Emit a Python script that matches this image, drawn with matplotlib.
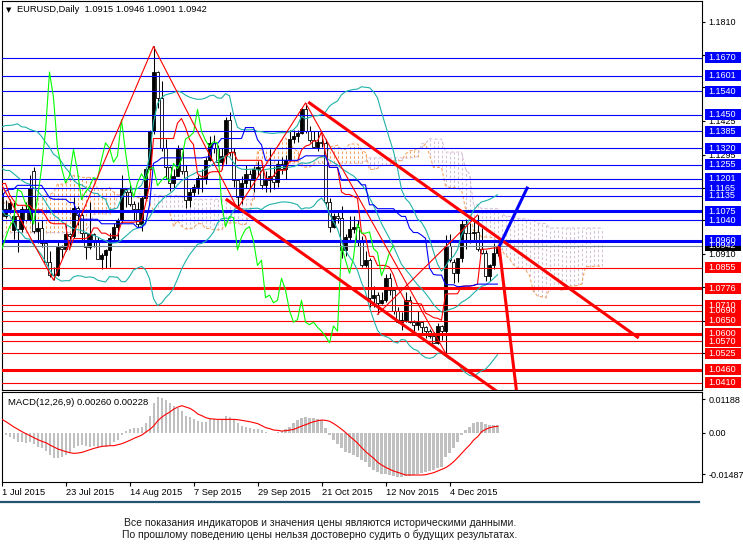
import numpy as np
import pandas as pd
import matplotlib
matplotlib.use("Agg")
import matplotlib.pyplot as plt
import matplotlib.transforms as mtransforms
from matplotlib.patches import Rectangle
from matplotlib.lines import Line2D

plt.rcParams['font.family'] = ['Liberation Sans', 'DejaVu Sans']

# history before the visible window (16 Mar - 30 Jun 2015), only used to warm up the indicators
hist_high = [1.0590, 1.0640, 1.1040, 1.0860, 1.0845, 1.0950, 1.1000, 1.0990, 1.1050, 1.0930, 1.0890, 1.0795,
             1.0790, 1.0935, 1.1000, 1.1035, 1.0980, 1.0875, 1.0790, 1.0675, 1.0625, 1.0690, 1.0700, 1.0845,
             1.0850, 1.0810, 1.0780, 1.0795, 1.0850, 1.0875, 1.0905, 1.0990, 1.1190, 1.1290,
             1.1290, 1.1200, 1.1195, 1.1345, 1.1390, 1.1285, 1.1220, 1.1245, 1.1375, 1.1445, 1.1465, 1.1460,
             1.1325, 1.1165, 1.1190, 1.1130, 1.1015, 1.0990, 1.0905, 1.0990, 1.0990,
             1.0990, 1.1165, 1.1275, 1.1380, 1.1275, 1.1290, 1.1305, 1.1385, 1.1330, 1.1290, 1.1285, 1.1290,
             1.1330, 1.1435, 1.1395, 1.1410, 1.1325, 1.1235, 1.1250, 1.1220, 1.1275, 1.1280]
hist_low = [1.0460, 1.0560, 1.0570, 1.0615, 1.0650, 1.0800, 1.0915, 1.0880, 1.0890, 1.0815, 1.0810, 1.0710,
            1.0720, 1.0755, 1.0815, 1.0920, 1.0790, 1.0755, 1.0630, 1.0595, 1.0520, 1.0540, 1.0570, 1.0660,
            1.0740, 1.0710, 1.0700, 1.0665, 1.0705, 1.0800, 1.0840, 1.0875, 1.0955, 1.1130,
            1.1170, 1.1115, 1.1100, 1.1170, 1.1235, 1.1140, 1.1120, 1.1130, 1.1200, 1.1330, 1.1350, 1.1310,
            1.1115, 1.1060, 1.1085, 1.0990, 1.0945, 1.0865, 1.0820, 1.0870, 1.0900,
            1.0885, 1.0920, 1.1110, 1.1195, 1.1050, 1.1085, 1.1225, 1.1250, 1.1205, 1.1180, 1.1135, 1.1190,
            1.1215, 1.1325, 1.1325, 1.1280, 1.1135, 1.1160, 1.1155, 1.1130, 1.0955, 1.1120]
hist_close = [1.0565, 1.0595, 1.0845, 1.0660, 1.0820, 1.0935, 1.0925, 1.0965, 1.0890, 1.0890, 1.0830, 1.0730,
              1.0760, 1.0885, 1.0970, 1.0925, 1.0805, 1.0780, 1.0650, 1.0600, 1.0570, 1.0665, 1.0685, 1.0765,
              1.0805, 1.0735, 1.0725, 1.0730, 1.0825, 1.0870, 1.0885, 1.0975, 1.1125, 1.1225,
              1.1200, 1.1145, 1.1180, 1.1345, 1.1265, 1.1200, 1.1155, 1.1215, 1.1345, 1.1405, 1.1450, 1.1315,
              1.1145, 1.1095, 1.1105, 1.1010, 1.0980, 1.0875, 1.0900, 1.0975, 1.0985,
              1.0925, 1.1155, 1.1275, 1.1240, 1.1110, 1.1290, 1.1290, 1.1320, 1.1250, 1.1265, 1.1280, 1.1245,
              1.1330, 1.1360, 1.1345, 1.1325, 1.1165, 1.1200, 1.1205, 1.1165, 1.1235, 1.1146]

# EURUSD daily bars shown on the chart, 1 Jul - 22 Dec 2015
bar_open = [1.1146, 1.1055, 1.1085, 1.1001, 1.1058, 1.1008, 1.1083, 1.1040, 1.1230, 1.1000, 1.1010, 1.0950,
            1.0878, 1.0827, 1.0829, 1.0936, 1.0928, 1.0985, 1.0980, 1.1088, 1.1060, 1.0990, 1.0935,
            1.0985, 1.0955, 1.0890, 1.0905, 1.0925, 1.0970, 1.1015, 1.1040, 1.1160, 1.1150, 1.1105, 1.1085,
            1.1025, 1.1125, 1.1240, 1.1385, 1.1615, 1.1515, 1.1320, 1.1245, 1.1185,
            1.1212, 1.1315, 1.1230, 1.1120, 1.1150, 1.1170, 1.1205, 1.1200, 1.1275, 1.1340, 1.1320, 1.1265,
            1.1290, 1.1430, 1.1305, 1.1195, 1.1130, 1.1185, 1.1220, 1.1195, 1.1240, 1.1245,
            1.1175, 1.1195, 1.1210, 1.1190, 1.1260, 1.1240, 1.1275, 1.1355, 1.1365, 1.1380, 1.1470, 1.1385,
            1.1350, 1.1325, 1.1345, 1.1340, 1.1110, 1.1015, 1.1055, 1.1050, 1.0925, 1.0975,
            1.1005, 1.1015, 1.0960, 1.0865, 1.0885, 1.0740, 1.0750, 1.0720, 1.0730, 1.0815, 1.0770, 1.0690,
            1.0645, 1.0655, 1.0730, 1.0645, 1.0635, 1.0645, 1.0625, 1.0610, 1.0590,
            1.0565, 1.0630, 1.0610, 1.0940, 1.0880, 1.0835, 1.0895, 1.1025, 1.0990, 1.0990, 1.0995, 1.0930,
            1.0915, 1.0825, 1.0865, 1.0915]
bar_high = [1.1147, 1.1120, 1.1124, 1.1110, 1.1063, 1.1096, 1.1109, 1.1215, 1.1245, 1.1035, 1.1042, 1.0960,
            1.0920, 1.0860, 1.0960, 1.0945, 1.1020, 1.0990, 1.1130, 1.1095, 1.1070, 1.0995, 1.1110,
            1.0990, 1.0975, 1.0915, 1.0930, 1.0990, 1.1030, 1.1050, 1.1215, 1.1165, 1.1180, 1.1115, 1.1110,
            1.1135, 1.1245, 1.1390, 1.1714, 1.1620, 1.1580, 1.1355, 1.1250, 1.1240,
            1.1330, 1.1320, 1.1255, 1.1165, 1.1180, 1.1215, 1.1240, 1.1285, 1.1365, 1.1370, 1.1330, 1.1320,
            1.1440, 1.1460, 1.1320, 1.1200, 1.1210, 1.1255, 1.1235, 1.1250, 1.1270, 1.1255,
            1.1230, 1.1318, 1.1250, 1.1275, 1.1285, 1.1295, 1.1390, 1.1390, 1.1390, 1.1475, 1.1495, 1.1405,
            1.1385, 1.1385, 1.1370, 1.1355, 1.1125, 1.1070, 1.1075, 1.1095, 1.0985, 1.1055,
            1.1055, 1.1040, 1.0980, 1.0920, 1.0895, 1.0785, 1.0760, 1.0760, 1.0830, 1.0835, 1.0775, 1.0705,
            1.0685, 1.0760, 1.0745, 1.0655, 1.0690, 1.0650, 1.0630, 1.0620, 1.0605,
            1.0640, 1.0635, 1.0981, 1.0985, 1.0890, 1.0895, 1.1042, 1.1045, 1.1030, 1.1050, 1.1060,
            1.1010, 1.0925, 1.0870, 1.0950, 1.0946]
bar_low = [1.1032, 1.1047, 1.1067, 1.0967, 1.0916, 1.0995, 1.1036, 1.1036, 1.0990, 1.0950, 1.0935, 1.0870,
           1.0820, 1.0808, 1.0825, 1.0890, 1.0920, 1.0940, 1.0970, 1.1020, 1.0955, 1.0890, 1.0930,
           1.0935, 1.0890, 1.0850, 1.0855, 1.0860, 1.0960, 1.0960, 1.1030, 1.1090, 1.1095, 1.1040, 1.1015,
           1.1000, 1.1120, 1.1235, 1.1375, 1.1475, 1.1310, 1.1200, 1.1155, 1.1160,
           1.1210, 1.1220, 1.1087, 1.1090, 1.1135, 1.1140, 1.1150, 1.1180, 1.1270, 1.1300, 1.1250, 1.1240,
           1.1260, 1.1290, 1.1170, 1.1085, 1.1105, 1.1165, 1.1165, 1.1150, 1.1210, 1.1160,
           1.1150, 1.1150, 1.1160, 1.1170, 1.1220, 1.1200, 1.1270, 1.1340, 1.1345, 1.1375, 1.1380, 1.1345,
           1.1320, 1.1310, 1.1325, 1.1105, 1.0995, 1.1010, 1.1030, 1.0895, 1.0900, 1.0965,
           1.0990, 1.0940, 1.0860, 1.0860, 1.0705, 1.0705, 1.0675, 1.0715, 1.0725, 1.0750, 1.0675, 1.0640,
           1.0615, 1.0645, 1.0640, 1.0600, 1.0615, 1.0595, 1.0585, 1.0585, 1.0565,
           1.0560, 1.0575, 1.0525, 1.0880, 1.0796, 1.0800, 1.0880, 1.0930, 1.0950, 1.0965, 1.0920,
           1.0910, 1.0805, 1.0805, 1.0850, 1.0901]
bar_close = [1.1055, 1.1085, 1.1108, 1.1058, 1.1008, 1.1083, 1.1040, 1.1166, 1.1000, 1.1010, 1.0950, 1.0878,
             1.0827, 1.0829, 1.0936, 1.0928, 1.0985, 1.0980, 1.1088, 1.1060, 1.0990, 1.0935, 1.0985,
             1.0955, 1.0890, 1.0905, 1.0925, 1.0970, 1.1015, 1.1040, 1.1160, 1.1150, 1.1105, 1.1085, 1.1025,
             1.1125, 1.1240, 1.1385, 1.1615, 1.1515, 1.1320, 1.1245, 1.1185, 1.1212,
             1.1315, 1.1230, 1.1120, 1.1150, 1.1170, 1.1205, 1.1200, 1.1275, 1.1340, 1.1320, 1.1265, 1.1290,
             1.1430, 1.1305, 1.1195, 1.1130, 1.1185, 1.1220, 1.1195, 1.1240, 1.1245, 1.1175,
             1.1195, 1.1210, 1.1190, 1.1260, 1.1240, 1.1275, 1.1355, 1.1365, 1.1380, 1.1470, 1.1385, 1.1350,
             1.1325, 1.1345, 1.1340, 1.1110, 1.1015, 1.1055, 1.1050, 1.0925, 1.0975, 1.1005,
             1.1015, 1.0960, 1.0865, 1.0885, 1.0740, 1.0750, 1.0720, 1.0730, 1.0815, 1.0770, 1.0690, 1.0645,
             1.0655, 1.0730, 1.0645, 1.0635, 1.0645, 1.0625, 1.0610, 1.0590, 1.0565,
             1.0630, 1.0610, 1.0940, 1.0885, 1.0835, 1.0895, 1.1025, 1.0990, 1.0990, 1.0995, 1.0930,
             1.0915, 1.0825, 1.0865, 1.0915, 1.0942]

# MACD(12,26,9), in units of 1e-3
macd_main_e3 = [-0.83, -0.83, -1.43, -2.26, -3.21, -3.45, -3.80, -3.45, -4.16, -4.99, -5.59, -6.54, -7.96,
                -8.91, -9.15, -8.56, -7.96, -7.37, -5.59, -4.63, -4.40, -4.63, -4.99, -4.75, -4.99, -5.23,
                -4.99, -4.40, -3.45, -2.61, -0.83, 0.59, 1.31, 1.78, 1.78, 2.14, 3.33, 6.06, 10.46, 12.60,
                12.48, 11.65, 10.46, 9.63, 8.91, 7.84, 6.06, 5.47, 4.75, 4.16, 3.68, 3.92, 4.75, 4.75, 4.52,
                4.87, 6.06, 5.70, 4.75, 3.33, 2.50, 2.14, 1.54, 1.31, 1.31, 0.95, 0.36, 0.0, -0.24, 0.36,
                0.71, 1.31, 2.14, 3.33, 4.52, 5.35, 5.59, 5.35, 5.11, 4.87, 4.52, 1.54, -0.83, -2.61, -4.16,
                -5.59, -6.77, -7.37, -7.96, -8.56, -9.74, -10.58, -12.12, -13.31, -14.14, -14.85, -14.85,
                -15.09, -15.33, -15.69, -15.81, -15.33, -15.33, -15.09, -14.85, -14.50, -14.14, -13.67,
                -13.31, -12.72, -12.12, -8.56, -7.37, -5.59, -3.45, -0.83, 0.95, 2.14, 3.33, 3.92, 3.68,
                2.97, 2.73, 2.73, 2.60]
macd_signal_e3 = [4.75, 3.92, 2.97, 2.02, 1.19, 0.36, -0.36, -1.07, -1.78, -2.50, -3.09, -3.57, -4.40,
                  -5.11, -5.82, -6.30, -6.77, -7.13, -7.37, -7.25, -7.01, -6.54, -6.06, -5.59, -5.23, -4.87,
                  -4.75, -4.63, -4.63, -4.28, -3.92, -3.33, -2.73, -2.02, -1.43, -0.83, 0.24, 1.19, 2.50,
                  4.28, 5.59, 6.54, 7.37, 8.44, 9.15, 9.63, 9.15, 8.68, 7.84, 6.65, 6.06, 5.35, 4.99, 4.87,
                  4.75, 4.75, 4.75, 4.75, 4.75, 4.63, 4.40, 4.16, 3.92, 3.57, 3.21, 2.50, 1.78, 1.43, 0.95,
                  0.83, 0.59, 0.71, 0.95, 1.19, 1.78, 2.38, 2.85, 3.45, 3.92, 4.28, 4.52, 4.40, 4.04, 3.21,
                  2.26, 1.19, 0.0, -1.31, -2.50, -3.80, -5.35, -6.77, -7.96, -9.15, -10.58, -11.53, -12.36,
                  -13.07, -13.67, -14.14, -14.62, -15.09, -15.09, -15.09, -15.09, -15.09, -14.97, -14.62,
                  -14.26, -13.67, -13.07, -12.48, -11.53, -10.34, -8.91, -7.37, -5.82, -4.40, -2.61, -1.43,
                  0.36, 1.19, 1.78, 2.10, 2.28]

# horizontal levels drawn on the chart
res_levels = [1.1670, 1.1601, 1.1540, 1.1450, 1.1385, 1.1320, 1.1255, 1.1201, 1.1165, 1.1135,
              1.1075, 1.1040, 1.0960]
res_thick = [1.1075, 1.0960]
sup_levels = [1.0855, 1.0776, 1.0710, 1.0690, 1.0650, 1.0600, 1.0570, 1.0525, 1.0460, 1.0410]
sup_thick = [1.0776, 1.0600, 1.0460]
price_ticks = [1.1810, 1.1680, 1.1555, 1.1425, 1.1295, 1.1165, 1.1040, 1.0910, 1.0780, 1.0650, 1.0525]
# the axis scale labels that are not covered by a level box
shown_ticks = [1.1810, 1.1425, 1.1295, 1.0910]
last_price = 1.0942
macd_ticks = [0.01188, 0.0, -0.01487]
macd_tick_labels = ["0.01188", "0.00", "-0.01487"]

# hand drawn lines: (bar, price) anchors
channel_top = [(77, 1.1495), (159, 1.0587)]
channel_bottom = [(56.4, 1.1119), (126, 1.0353)]
forecast_down = [(124.4, 1.0937), (129.2, 1.0320)]
forecast_up = [(124.6, 1.0944), (131.4, 1.1165)]
thin_trend = [(94, 1.0675), (119, 1.1060)]
zigzag_bars = [-9, 13, 38, 59, 76, 111]
zigzag_is_high = [True, False, True, False, True, False]

header = "EURUSD,Daily  1.0915 1.0946 1.0901 1.0942"
macd_title = "MACD(12,26,9) 0.00260 0.00228"
footer = ["Все показания индикаторов и значения цены являются историческими данными.",
          "По прошлому поведению цены нельзя достоверно судить о будущих результатах."]

W, H = 743, 552
BLUE = "#0000FF"
RED = "#FF0000"


def main():
    dates = pd.bdate_range("2015-07-01", "2015-12-22")
    n = len(bar_close)
    x = np.arange(n)
    o, h, l, c = (np.array(a) for a in (bar_open, bar_high, bar_low, bar_close))

    full_h = pd.Series(np.r_[hist_high, bar_high])
    full_l = pd.Series(np.r_[hist_low, bar_low])
    full_c = pd.Series(np.r_[hist_close, bar_close])
    x_full = np.arange(-len(hist_high), n)

    fig = plt.figure(figsize=(W / 100, H / 100), dpi=100)
    ax = fig.add_axes([2 / W, 1 - 390 / H, 700 / W, 389 / H])
    mx = fig.add_axes([2 / W, 1 - 482 / H, 700 / W, 90 / H])

    x0 = 0.125
    for a in (ax, mx):
        a.set_xlim(x0, x0 + 175)
        for s in a.spines.values():
            s.set_linewidth(0.8)
    ax.set_ylim(1.1810 - (390 - 21.7) / 2579, 1.1810 + 20.7 / 2579)
    mx.set_ylim(-0.01758, 0.01451)

    # ichimoku
    tenkan = (full_h.rolling(9, min_periods=1).max() + full_l.rolling(9, min_periods=1).min()) / 2
    kijun = (full_h.rolling(26, min_periods=1).max() + full_l.rolling(26, min_periods=1).min()) / 2
    span_a = ((tenkan + kijun) / 2).values
    span_b = ((full_h.rolling(52, min_periods=1).max() + full_l.rolling(52, min_periods=1).min()) / 2).values
    shifted = x_full + 26
    up_k = span_a >= span_b
    ax.vlines(shifted[up_k], span_b[up_k], span_a[up_k], colors="#F4A460", lw=0.75,
              linestyles=(0, (2.5, 2)), zorder=1)
    ax.vlines(shifted[~up_k], span_a[~up_k], span_b[~up_k], colors="#D8BFD8", lw=0.75,
              linestyles=(0, (2.5, 2)), zorder=1)
    ax.plot(shifted, span_a, color="#F4A460", lw=0.75, ls=(0, (3, 2)), zorder=1.1)
    ax.plot(shifted, span_b, color="#D8BFD8", lw=0.75, ls=(0, (3, 2)), zorder=1.1)

    # candles
    bull = c >= o
    ax.vlines(x, l, h, color="black", lw=0.75, zorder=2)
    ax.bar(x[bull], (c - o)[bull], bottom=o[bull], width=0.6, color="black",
           edgecolor="black", lw=0.6, zorder=2.1)
    ax.bar(x[~bull], (o - c)[~bull], bottom=c[~bull], width=0.6, color="white",
           edgecolor="black", lw=0.6, zorder=2.1)

    # horizontal levels
    for lv in res_levels:
        ax.axhline(lv, color=BLUE, lw=2.2 if lv in res_thick else 0.8, zorder=3)
    for lv in sup_levels:
        ax.axhline(lv, color=RED, lw=2.2 if lv in sup_thick else 0.8, zorder=3)
    ax.axhline(last_price, color="#778899", lw=0.8, zorder=3)

    # bollinger bands
    mid = full_c.rolling(20, min_periods=1).mean()
    sd = full_c.rolling(20, min_periods=1).std(ddof=0)
    for band in (mid, mid + 2 * sd, mid - 2 * sd):
        ax.plot(x_full, band, color="#20B2AA", lw=0.8, zorder=4)

    ax.plot(x_full, tenkan, color=RED, lw=0.8, zorder=4)
    ax.plot(x_full, kijun, color=BLUE, lw=0.8, zorder=4)
    ax.plot(x - 26, c, color="#00FF00", lw=0.8, zorder=4)

    # zigzag
    zz_p = [full_h[b + len(hist_high)] if hi else full_l[b + len(hist_high)]
            for b, hi in zip(zigzag_bars, zigzag_is_high)]
    ax.plot(zigzag_bars, zz_p, color=RED, lw=0.8, zorder=4.5)

    for pts, col, lw in ((channel_top, RED, 2.2), (channel_bottom, RED, 2.2),
                         (forecast_down, RED, 2.2), (forecast_up, BLUE, 2.2),
                         (thin_trend, RED, 0.8)):
        ax.plot([p[0] for p in pts], [p[1] for p in pts], color=col, lw=lw, zorder=5)

    # price axis
    ax.set_xticks([])
    ax.yaxis.tick_right()
    ax.set_yticks(price_ticks)
    ax.set_yticklabels([f"{t:.4f}" if t in shown_ticks else "" for t in price_ticks])
    ax.tick_params(axis="y", direction="out", length=2.5, width=0.8, pad=2, labelsize=6.5)

    trans = mtransforms.blended_transform_factory(ax.transAxes, ax.transData)
    bh = 11 / 2579
    labels = [(lv, BLUE) for lv in res_levels[:-1]] + [(last_price, "black"), (res_levels[-1], BLUE)]
    labels += [(lv, RED) for lv in sup_levels]
    for lv, col in labels:
        ax.add_patch(Rectangle((1.0043, lv - bh / 2), 0.0514, bh, transform=trans, clip_on=False,
                               facecolor=col, edgecolor="none", zorder=10))
        ax.text(1.0086, lv, f"{lv:.4f}", transform=trans, color="white", fontsize=6.5,
                va="center", ha="left", clip_on=False, zorder=11)

    fig.text(6 / W, 1 - 10 / H, "▼", fontsize=5, va="center", ha="left", family="DejaVu Sans")
    fig.text(17 / W, 1 - 10 / H, header, fontsize=6.7, va="center", ha="left")

    # macd panel
    mx.bar(x, np.array(macd_main_e3) * 1e-3, width=0.65, color="#C0C0C0", zorder=2)
    mx.plot(x, np.array(macd_signal_e3) * 1e-3, color=RED, lw=0.8, zorder=3)
    mx.text(6 / 700, 0.88, macd_title, transform=mx.transAxes, fontsize=6.8, va="center", ha="left")
    mx.yaxis.tick_right()
    mx.set_yticks(macd_ticks)
    mx.set_yticklabels(macd_tick_labels)
    mx.tick_params(axis="y", direction="out", length=2.5, width=0.8, pad=2, labelsize=6.5)

    tick_bars = x[::16]
    mx.set_xticks(tick_bars)
    mx.set_xticklabels([f"{d.day} {d.strftime('%b %Y')}" for d in dates[tick_bars]], ha="left")
    mx.tick_params(axis="x", direction="out", length=3, width=0.8, pad=1.5, labelsize=6.7)

    fig.add_artist(Line2D([0, 699 / W], [1 - 502 / H] * 2, color="#24556e", lw=1.6))
    for k, line in enumerate(footer):
        fig.text(320 / W, 1 - (523 + 12 * k) / H, line, fontsize=7.5, va="center", ha="center",
                 color="#1a1a1a")

    fig.savefig("out.png", dpi=100)


if __name__ == "__main__":
    main()
